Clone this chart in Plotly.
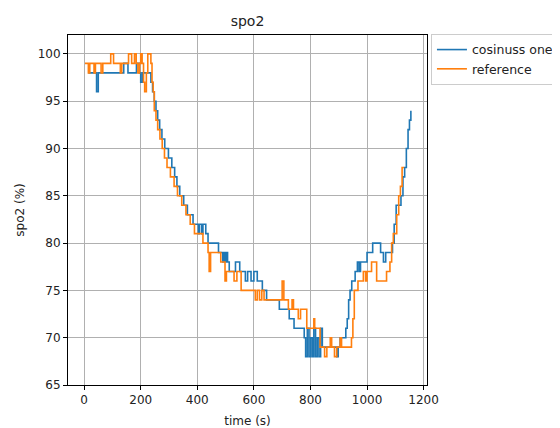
import plotly.graph_objects as go

# cosinuss one (blue) step change points
cos_t = [15, 44, 50, 140, 155, 185, 195, 200, 206, 236, 242, 248, 254, 260, 267, 275, 285, 298, 310, 320,
         328, 338, 352, 365, 385, 404, 407, 415, 420, 430, 438, 475, 490, 494, 498, 502, 507, 513, 535, 550,
         570, 578, 590, 600, 612, 630, 645, 690, 725, 742, 778, 783, 789, 795, 801, 807, 812, 818, 824, 830,
         836, 842, 893, 898, 905, 925, 930, 935, 940, 946, 958, 966, 972, 977, 1000, 1020, 1048, 1058, 1066, 1090,
         1096, 1103, 1120, 1127, 1133, 1139, 1145, 1150, 1155]
cos_v = [98, 96, 98, 99, 98, 99, 98, 97, 98, 97, 96, 95, 94, 93, 92, 91, 90, 89, 88, 87,
         86, 85, 84, 83, 82, 81, 82, 81, 82, 81, 80, 79, 78, 79, 78, 79, 78, 77, 78, 77,
         76, 77, 76, 77, 76, 75, 74, 73, 72, 71, 70, 68, 71, 68, 70, 68, 71, 68, 70, 68,
         71, 69, 68, 69, 70, 71, 72, 74, 75, 76, 77, 78, 77, 78, 79, 80, 79, 78, 79, 80,
         82, 84, 85, 87, 88, 90, 92, 93, 94]

# reference (orange) step change points
ref_t = [3, 15, 20, 35, 40, 60, 66, 94, 104, 128, 133, 157, 168, 178, 184, 190, 196, 200, 205, 210,
         214, 220, 225, 236, 240, 244, 248, 254, 260, 268, 276, 284, 293, 305, 318, 330, 345, 360, 375, 390,
         420, 438, 442, 447, 483, 498, 503, 530, 540, 555, 605, 612, 620, 628, 636, 700, 706, 722, 735, 740,
         757, 765, 787, 812, 815, 834, 850, 858, 870, 875, 885, 893, 905, 910, 945, 950, 955, 968, 987, 995,
         1000, 1016, 1034, 1069, 1081, 1087, 1093, 1105, 1112, 1118, 1124, 1131]
ref_v = [99, 98, 99, 98, 99, 98, 99, 100, 99, 98, 99, 100, 99, 100, 99, 98, 99, 100, 99, 97,
         96, 98, 100, 99, 97, 96, 94, 93, 92, 91, 90, 89, 88, 87, 86, 85, 84, 83, 82, 81,
         80, 79, 77, 79, 78, 76, 77, 76, 77, 75, 74, 75, 74, 75, 74, 76, 74, 73, 74, 73,
         72, 73, 71, 72, 71, 69, 68, 69, 70, 69, 68, 69, 70, 69, 70, 72, 75, 76, 77, 76,
         77, 78, 76, 77, 78, 80, 81, 83, 85, 86, 88, 88]

x_ticks = [0, 200, 400, 600, 800, 1000, 1200]
y_ticks = [65, 70, 75, 80, 85, 90, 95, 100]

FONT = "DejaVu Sans"
TXT = "#222"

# page body has an 8px default margin, so the figure is 8px smaller than the window
W, H = 552, 420
L, T, R, B = 60, 27, 133, 43

fig = go.Figure()
fig.add_trace(go.Scatter(x=cos_t, y=cos_v, mode="lines", name="cosinuss one",
                         line=dict(color="#1f77b4", width=1.6, shape="hv")))
fig.add_trace(go.Scatter(x=ref_t, y=ref_v, mode="lines", name="reference",
                         line=dict(color="#ff7f0e", width=1.6, shape="hv")))

axis_common = dict(showline=True, mirror=True, linecolor="black", linewidth=1,
                   ticks="outside", ticklen=4, tickcolor="black", tickwidth=1,
                   showgrid=True, gridcolor="#b0b0b0", gridwidth=0.8, zeroline=False,
                   automargin=False,
                   tickfont=dict(family=FONT, size=12, color=TXT))

fig.update_xaxes(range=[-57, 1212], tickvals=x_ticks, ticktext=[str(v) for v in x_ticks],
                 title=dict(text="time (s)", font=dict(family=FONT, size=12, color=TXT), standoff=10),
                 **axis_common)
fig.update_yaxes(range=[65, 102], tickvals=y_ticks, ticktext=[str(v) for v in y_ticks],
                 title=dict(text="spo2 (%)", font=dict(family=FONT, size=12, color=TXT), standoff=10),
                 **axis_common)

fig.update_layout(
    width=W, height=H, autosize=False,
    margin=dict(l=L, r=R, t=T, b=B, autoexpand=False),
    paper_bgcolor="white", plot_bgcolor="white",
    title=dict(text="spo2", x=(L + (W - R)) / 2 / W, xanchor="center", y=1 - 13 / H, yanchor="middle",
               font=dict(family=FONT, size=14, color=TXT)),
    legend=dict(x=1.011, y=1.003, xanchor="left", yanchor="top", bgcolor="white",
                bordercolor="#cccccc", borderwidth=1,
                font=dict(family=FONT, size=12.5, color=TXT)),
    showlegend=True,
)

fig.write_html("out.html")
